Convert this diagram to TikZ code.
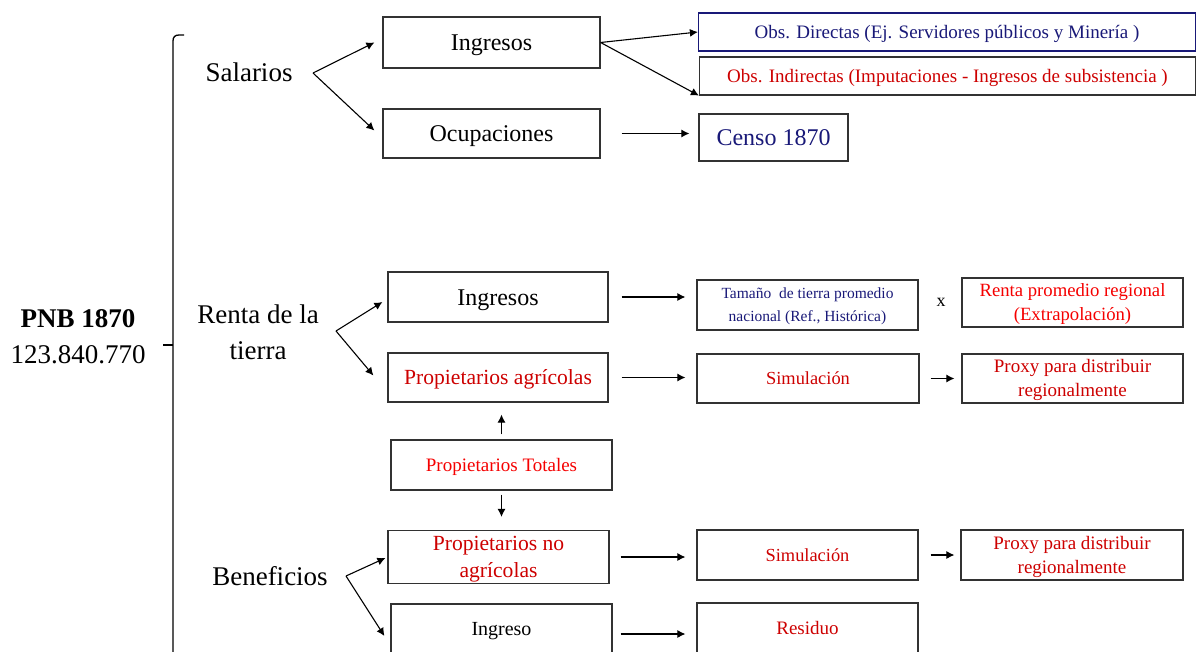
\documentclass[tikz,border=0pt]{standalone}
\usepackage{fontspec}
\setmainfont{Liberation Serif}
\usetikzlibrary{calc,arrows.meta}

\definecolor{azul}{RGB}{25,25,120}
\definecolor{rojo}{RGB}{205,0,0}
\definecolor{rojoclaro}{RGB}{245,0,0}
\definecolor{borde}{RGB}{50,50,50}
\newcommand{\letra}[2]{\fontsize{#1}{#2}\selectfont}

\tikzset{
    caja/.style={draw=borde, line width=1.2pt, minimum width=221pt, minimum height=50pt, inner sep=1pt, align=center},
    una/.style={font=\letra{#1}{#1}, text height=0.89*#1, text depth=0.22*#1},
    dos/.style 2 args={font=\letra{#1}{#2}, text height=0.89*#1+#2, text depth=0.22*#1},
    etiqueta/.style={inner sep=0pt, align=center, font=\letra{27}{36}},
    flecha/.style={-{Latex[length=8pt,width=8pt]}, line width=1.1pt},
}

\begin{document}
\begin{tikzpicture}[x=1pt, y=-1pt]
    \clip (0,0) rectangle (1196,652);
    \node [etiqueta] (pnb) at (78,337) {\textbf{PNB 1870}\\123.840.770};
    \draw [line width=1.3pt] (184,35) -- (179,35) .. controls (175,35) and (173,37) .. (173,41) -- (173,660);
    \draw [line width=1.3pt] (163,345) -- (173,345);

    \node [etiqueta] (sal) at (249,72) {Salarios};
    \node [etiqueta] (renta) at (258,332) {Renta de la\\tierra};
    \node [etiqueta] (ben) at (270,576) {Beneficios};

    \node [caja, una=24, minimum width=217pt, minimum height=51pt] (ing1) at (491.5,42.5) {Ingresos};
        \node [caja, una=24, minimum width=217pt, minimum height=49pt] (ocu) at ($(ing1) + (0,91)$) {Ocupaciones};
        \node [caja, una=19, draw=azul, text=azul, minimum width=497pt, minimum height=38pt] (dir) at (947,32) {Obs. Directas (Ej. Servidores públicos y Minería )};
        \node [caja, una=19, text=rojo, minimum width=496pt, minimum height=38pt] (ind) at ($(dir) + (0.5,44)$) {Obs. Indirectas (Imputaciones - Ingresos de subsistencia )};
        \node [caja, una=24, text=azul, minimum width=149pt, minimum height=47pt] (censo) at (773.5,137.5) {Censo 1870};

    \node [caja, una=24, minimum width=220pt] (ing2) at (498,297) {Ingresos};
        \node [caja, dos={15.5}{23}, text=azul] (tam) at ($(ing2) + (309.5,8)$) {Tamaño\ \ de tierra\ promedio\\nacional\ (Ref.,\ Histórica)};
        \node [inner sep=0pt, font=\letra{18}{20}] (por) at (941,302) {x};
        \node [caja, dos={18.7}{24}, text=rojoclaro, minimum height=49pt] (rpr) at (1072.5,302.5) {Renta promedio regional\\(Extrapolación)};
        \node [caja, una=21.6, text=rojo, minimum width=220pt, minimum height=49pt] (agr) at ($(ing2) + (0,80.5)$) {Propietarios agrícolas};
        \node [caja, una=18.4, text=rojo, minimum width=222pt, minimum height=49pt] (sim1) at ($(agr) + (310,1)$) {Simulación};
        \node [caja, dos={19}{24}, text=rojo, minimum height=49pt] (prx1) at ($(sim1) + (264.5,0)$) {Proxy para distribuir\\regionalmente};

    \node [caja, una=19, text=rojoclaro] (tot) at (501.5,465) {Propietarios Totales};
        \node [caja, dos={21.6}{27}, text=rojo, minimum height=51pt] (noagr) at (498.5,557) {Propietarios no\\agrícolas};
        \node [caja, una=18.4, text=rojo] (sim2) at ($(noagr) + (309,-2)$) {Simulación};
        \node [caja, dos={19}{24}, text=rojo, minimum width=222pt] (prx2) at ($(sim2) + (264.5,0)$) {Proxy para distribuir\\regionalmente};
        \node [caja, una=20] (ing3) at (501.5,629) {Ingreso};
        \node [caja, una=19, text=rojo] (res) at ($(ing3) + (306,-1)$) {Residuo};

    \coordinate (salp) at (313,73);
    \coordinate (rentap) at (336,331);
    \coordinate (benp) at (346,576);

    \draw [flecha] (salp) -- ($(ing1.west) + (-8,0)$);
    \draw [flecha] (salp) -- ($(ocu.west) + (-8,-3)$);
    \draw [flecha] (ing1.east) -- (dir.west);
    \draw [flecha] (ing1.east) -- (ind.south west);
    \draw [flecha, shorten <=21pt, shorten >=9pt] (ocu.east) -- (ocu.east -| censo.west);

    \draw [flecha] (rentap) -- ($(ing2.west) + (-5,5)$);
    \draw [flecha] (rentap) -- ($(agr.west) + (-14,-2)$);
    \draw [flecha, shorten <=13pt, shorten >=11pt] (ing2.east) -- (ing2.east -| tam.west);
    \draw [flecha, shorten <=13pt, shorten >=11pt] (agr.east) -- (agr.east -| sim1.west);
    \draw [flecha, shorten <=11pt, shorten >=7pt] (sim1.east) -- (sim1.east -| prx1.west);
    \draw [flecha, shorten <=5pt, shorten >=12pt] (tot.north) -- (tot.north |- agr.south);
    \draw [flecha, shorten <=4pt, shorten >=13pt] (tot.south) -- (tot.south |- noagr.north);

    \draw [flecha] (benp) -- ($(noagr.west) + (-2,1)$);
    \draw [flecha] (benp) -- ($(ing3.west) + (-6,7)$);
    \draw [flecha, shorten <=11pt, shorten >=11pt] (noagr.east) -- (noagr.east -| sim2.west);
    \draw [flecha, shorten <=12pt, shorten >=6pt] (sim2.east) -- (sim2.east -| prx2.west);
    \draw [flecha, shorten <=8pt, shorten >=11pt] ($(ing3.east) + (0,5)$) -- ($(ing3.east -| res.west) + (0,5)$);
\end{tikzpicture}
\end{document}
